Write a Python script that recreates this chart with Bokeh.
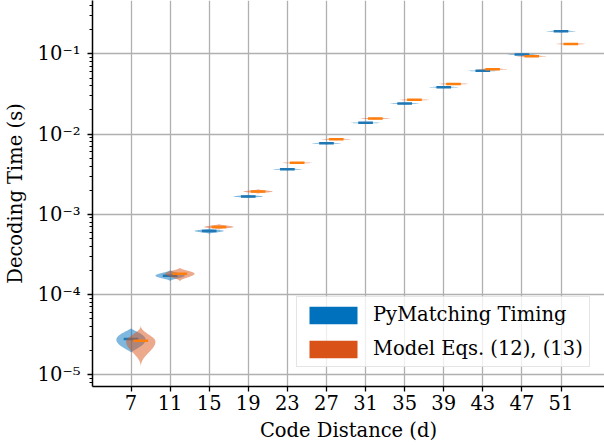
import numpy as np
from bokeh.plotting import figure
from bokeh.models import (Range1d, FixedTicker, LogTicker, CustomJSTickFormatter,
                          Legend, LegendItem, ColumnDataSource)
from bokeh.embed import file_html
from bokeh.resources import INLINE

# ---------------- data ----------------
code_distance = [7, 11, 15, 19, 23, 27, 31, 35, 39, 43, 47, 51]

# PyMatching timing (seconds)
pm_median = [2.79e-5, 1.72e-4, 6.21e-4, 1.67e-3, 3.64e-3, 7.67e-3,
             1.38e-2, 2.40e-2, 3.84e-2, 6.14e-2, 9.85e-2, 1.91e-1]
pm_peak = [2.74e-5, 1.72e-4, 6.21e-4, 1.67e-3, 3.64e-3, 7.67e-3,
           1.38e-2, 2.40e-2, 3.84e-2, 6.14e-2, 9.85e-2, 1.91e-1]
pm_top = [3.79e-5, 2.04e-4, 6.68e-4, 1.76e-3, 3.75e-3, 7.90e-3,
          1.42e-2, 2.47e-2, 3.95e-2, 6.32e-2, 1.01e-1, 1.97e-1]
pm_bottom = [1.90e-5, 1.46e-4, 5.70e-4, 1.59e-3, 3.53e-3, 7.45e-3,
             1.34e-2, 2.33e-2, 3.73e-2, 5.96e-2, 9.56e-2, 1.85e-1]
pm_shape = [1.3, 2.5, 2.5, 2.5, 2.5, 2.5, 2.5, 2.5, 2.5, 2.5, 2.5, 2.5]

# Model Eqs. (12), (13) (seconds)
model_median = [2.66e-5, 1.82e-4, 6.97e-4, 1.92e-3, 4.38e-3, 8.61e-3,
                1.56e-2, 2.67e-2, 4.22e-2, 6.43e-2, 9.33e-2, 1.33e-1]
model_peak = [2.59e-5, 1.82e-4, 6.96e-4, 1.92e-3, 4.38e-3, 8.61e-3,
              1.56e-2, 2.67e-2, 4.22e-2, 6.43e-2, 9.33e-2, 1.33e-1]
model_top = [4.30e-5, 2.18e-4, 7.58e-4, 2.06e-3, 4.51e-3, 8.87e-3,
             1.61e-2, 2.75e-2, 4.35e-2, 6.62e-2, 9.61e-2, 1.37e-1]
model_bottom = [1.18e-5, 1.45e-4, 6.44e-4, 1.81e-3, 4.25e-3, 8.36e-3,
                1.51e-2, 2.59e-2, 4.10e-2, 6.24e-2, 9.06e-2, 1.29e-1]
model_shape = [3.5, 2.5, 2.5, 2.5, 2.5, 2.5, 2.5, 2.5, 2.5, 2.5, 2.5, 2.5]

series_labels = ["PyMatching Timing", "Model Eqs. (12), (13)"]
legend_colors = ["#0072BD", "#D95319"]
median_colors = ["#1f77b4", "#ff7f0e"]

FONT = "DejaVu Serif"
FS = "19.5px"
VIOLIN_HALF = 1.5      # half of violin width (x units)
MEDIAN_HALF = 0.75     # half length of median bar
OFFSET = 1.0           # model violins shifted right


def violin_outline(cx, top, peak, bottom, b, n=40):
    lt, lp, lb = np.log10([top, peak, bottom])
    u = np.linspace(0.0, 1.0, n)
    y_up = lp + (lt - lp) * u
    y_dn = lp + (lb - lp) * u
    w = VIOLIN_HALF * (1.0 - u ** 2) ** b
    ys_r = np.concatenate([y_up[::-1], y_dn[1:]])
    ws_r = np.concatenate([w[::-1], w[1:]])
    xs = np.concatenate([cx + ws_r, (cx - ws_r)[::-1]])
    ys = np.concatenate([ys_r, ys_r[::-1]])
    return list(xs), list(10.0 ** ys)


p = figure(width=604, height=448, title=None,
           x_range=Range1d(3.06, 55.45),
           y_range=Range1d(10 ** -5.146, 10 ** -0.335),
           y_axis_type="log", output_backend="svg", toolbar_location=None,
           min_border_left=89, min_border_right=0, min_border_top=0,
           min_border_bottom=62)
p.outline_line_color = None
p.background_fill_color = "white"
p.border_fill_color = "white"


def draw_series(centers, top, peak, bottom, shape, median, body_color, line_color):
    xs_all, ys_all = [], []
    for c, t, pk, b, k in zip(centers, top, peak, bottom, shape):
        xs, ys = violin_outline(c, t, pk, b, k)
        xs_all.append(xs)
        ys_all.append(ys)
    p.patches(xs=xs_all, ys=ys_all, fill_color=body_color, fill_alpha=0.5,
              line_color=None)
    src = ColumnDataSource(dict(x0=[c - MEDIAN_HALF for c in centers],
                                x1=[c + MEDIAN_HALF for c in centers],
                                y=median))
    p.segment(x0="x0", x1="x1", y0="y", y1="y", source=src,
              line_color=line_color, line_width=2.5)


pm_centers = [float(d) for d in code_distance]
model_centers = [d + OFFSET for d in code_distance]

draw_series(pm_centers, pm_top, pm_peak, pm_bottom, pm_shape, pm_median,
            legend_colors[0], median_colors[0])
draw_series(model_centers, model_top, model_peak, model_bottom, model_shape,
            model_median, legend_colors[1], median_colors[1])

# legend proxies: zero-area quads (draw nothing in the plot area)
leg_r = []
for col, cen, med in ((legend_colors[0], pm_centers, pm_median),
                      (legend_colors[1], model_centers, model_median)):
    leg_r.append(p.quad(left=[cen[0]], right=[cen[0]], top=[med[0]], bottom=[med[0]],
                        fill_color=col, line_color=None))

legend = Legend(items=[LegendItem(label=series_labels[0], renderers=[leg_r[0]]),
                       LegendItem(label=series_labels[1], renderers=[leg_r[1]])],
                location=(204, 19), glyph_width=60, glyph_height=22,
                label_height=22, spacing=11, padding=6, label_standoff=10,
                label_text_font=FONT, label_text_font_size=FS,
                label_text_color="black",
                border_line_color="#cccccc", border_line_width=1,
                background_fill_color="white", background_fill_alpha=0.8)
p.add_layout(legend)

# axes
xa = p.xaxis[0]
ya = p.yaxis[0]
xa.ticker = FixedTicker(ticks=code_distance, minor_ticks=[])
ya.ticker = LogTicker(num_minor_ticks=10)
ya.formatter = CustomJSTickFormatter(code="""
const e = Math.round(Math.log10(tick));
const m = {'-':'\u207b','0':'\u2070','1':'\u00b9','2':'\u00b2','3':'\u00b3',
           '4':'\u2074','5':'\u2075','6':'\u2076','7':'\u2077','8':'\u2078','9':'\u2079'};
return '10' + String(e).split('').map(c => m[c]).join('');
""")
xa.axis_label = "Code Distance (d)"
ya.axis_label = "Decoding Time (s)"
for ax in (xa, ya):
    ax.axis_line_color = "black"
    ax.axis_line_width = 1.5
    ax.major_tick_line_color = "black"
    ax.major_tick_line_width = 1.3
    ax.major_tick_out = 5
    ax.major_tick_in = 0
    ax.minor_tick_line_color = "black"
    ax.minor_tick_line_width = 1.0
    ax.minor_tick_out = 3
    ax.minor_tick_in = 0
    ax.major_label_text_font = FONT
    ax.major_label_text_font_size = FS
    ax.major_label_text_color = "black"
    ax.axis_label_text_font = FONT
    ax.axis_label_text_font_size = FS
    ax.axis_label_text_font_style = "normal"
    ax.axis_label_text_color = "black"
xa.major_label_standoff = 3
xa.axis_label_standoff = 6
ya.major_label_standoff = 7
ya.axis_label_standoff = 8

for g in (p.xgrid[0], p.ygrid[0]):
    g.grid_line_color = "#b0b0b0"
    g.grid_line_width = 1.3
    g.minor_grid_line_color = None

open("out.html", "w").write(file_html(p, INLINE))
